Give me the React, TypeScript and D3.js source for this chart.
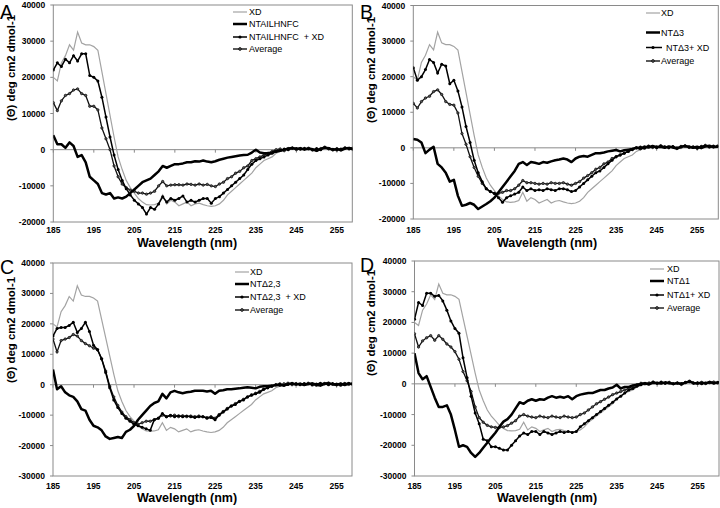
import React from "react";
import * as d3 from "d3";

const WAVELENGTHS = d3.range(185, 261);

const TICKS_X = [185, 195, 205, 215, 225, 235, 245, 255];

const XD = [
  20000, 19000, 24000, 26000, 29000, 27500, 32500, 29500, 29000, 29000, 28500, 27500, 21500, 15500, 9500, 3500,
  -2000, -5500, -8500, -10500, -12000, -13500, -14500, -15200, -15300, -15200, -14800, -12500, -15000, -14000,
  -14500, -15500, -15000, -14500, -15500, -15000, -14800, -15200, -15500, -15700, -15500, -15000, -14000, -12500,
  -11500, -10500, -9500, -8500, -7500, -6500, -5000, -4000, -3000, -2500, -2000, -1000,
  -500, -200, 200, 400, 100, 300, 200, 500, 200, 0, -200, 400, 600, 200, 0, 300, 500, 200, 400, 300,
];

const NTAIL = [
  4000, 1500, 1500, 500, 2000, 1000, -2000, -1500, -3500, -7500, -8500, -9500, -12000, -12400, -12000, -13500,
  -13200, -13500, -13000, -12000, -11000, -10000, -9000, -8500, -8000, -7000, -6000, -4500, -5000, -4500,
  -4000, -4000, -3800, -3500, -3500, -3200, -3300, -3000, -3300, -3500, -3200, -2800, -2500, -2200,
  -2000, -1800, -1600, -1500, -1400, -800, 0, -800, -1000, -1000, -800, -500,
  -300, 0, 300, 500, 200, 400, 0, 300, 100, -300, 200, 600, 300, 0, 200, -200, 300, 500, 200, 400,
];
const NTAIL_XD = [
  22000, 24000, 23000, 25000, 24000, 26000, 24500, 26500, 26500, 20500, 20000, 19000, 14500, 9000, 3500, -1500,
  -5500, -8500, -10800, -12500, -14000, -15000, -16000, -17800, -16000, -16500, -15000, -13000, -14500, -13500,
  -14000, -13500, -12800, -14500, -14000, -14500, -14000, -13500, -13500, -14800, -13500, -13000, -12000, -11000,
  -10000, -9000, -8000, -7000, -5500, -4000, -3000, -2500, -2000, -1500, -1000, -500,
  -200, 200, 0, 400, 300, 100, 400, 200, -100, 300, 0, 500, 400, 100, -100, 200, 500, 300, 0, 400,
];
const NTAIL_AVG = [
  13000, 10800, 13500, 15000, 15500, 16500, 16800, 15500, 15000, 12000, 12000, 11000, 6000, 3000, 0, -4500,
  -7500, -9500, -10500, -11200, -11500, -12000, -12000, -12300, -12000, -11500, -10000, -8800, -10000, -9800,
  -9700, -9700, -9800, -9500, -9600, -9800, -9500, -9800, -9600, -10000, -10200, -9500, -9000, -8000,
  -7500, -6500, -6000, -5000, -4500, -3000, -2500, -2000, -1500, -1000, -500, 0,
  200, -300, 300, 500, 0, 300, 200, 400, 0, -200, 300, 700, 200, -100, 300, 0, 400, 200, 500, 300,
];

const NTD3 = [
  2500, 2300, 1500, -1500, -500, 300, -4500, -5500, -7000, -9500, -9000, -13500, -16300, -16000, -15500, -16000,
  -17200, -16500, -15800, -15000, -14000, -12500, -11000, -9500, -8000, -6500, -4500, -4000, -4800, -4000,
  -4200, -4500, -4000, -4200, -3800, -3500, -3300, -3000, -3300, -4000, -3000, -2500, -2300, -2500,
  -2000, -1500, -1500, -1300, -1000, -800, -600, -1000, -700, -500, -300, 0,
  -200, 300, 100, 500, 200, 300, 0, 400, 100, -200, 300, 500, 200, 0, 300, -100, 400, 600, 200, 300,
];
const NTD3_XD = [
  22500, 19000, 20000, 22000, 24800, 24000, 21000, 23500, 23000, 18000, 19000, 16000, 11500, 6000, 1500, -3500,
  -7000, -9500, -11500, -12300, -12800, -14000, -15300, -14000, -13500, -13000, -12500, -11000, -12000, -11500,
  -12000, -11800, -12000, -11500, -11800, -12000, -11500, -11500, -11800, -12300, -12000, -11000, -10000, -9000,
  -8000, -7000, -6500, -5500, -4500, -3500, -2500, -2000, -1500, -1000, -500, 0,
  200, -100, 400, 300, 0, 500, 300, 100, 400, 0, 200, 600, 300, 100, -100, 300, 600, 200, 500, 400,
];
const NTD3_AVG = [
  12500, 11200, 13000, 14000, 14500, 15800, 16300, 15000, 13000, 12200, 12000, 9800, 4000, 1000, -2500, -5500,
  -8000, -10000, -11500, -12300, -12800, -12800, -12500, -12000, -12000, -11500, -10500, -9200, -9800, -9800,
  -10000, -10200, -10000, -10200, -9800, -10000, -10000, -9800, -10200, -10500, -10000, -9500, -8500, -7800,
  -7000, -6000, -5500, -4500, -4000, -3000, -2500, -2000, -1500, -1000, -500, 0,
  -300, 200, 500, 100, 300, 600, 200, 0, 300, -200, 400, 500, 100, 300, 0, 400, 700, 300, 200, 500,
];

const NTD23 = [
  5000, -1500, -500, -2500, -3500, -4000, -5500, -8000, -8500, -11500, -13500, -14000, -15000, -17000, -17800, -17500,
  -17200, -17500, -15500, -14800, -13500, -11500, -10000, -8500, -7000, -6000, -5500, -3000, -4500, -2500,
  -2000, -2500, -2800, -2500, -2300, -2000, -2000, -2000, -2200, -2000, -3000, -2000, -1800, -1500,
  -1500, -1300, -1200, -1000, -800, -1000, -1200, -700, -500, -500, -300, -200,
  0, -300, 200, 400, 100, 300, -100, 200, 400, 0, -300, 300, 500, 100, 0, 300, -100, 400, 200, 300,
];
const NTD23_XD = [
  16000, 18500, 18800, 18800, 19500, 20500, 17200, 18500, 20500, 17500, 13000, 11500, 8500, 4000, -1000, -5000,
  -7500, -9500, -11000, -12000, -13000, -13500, -14000, -14500, -15000, -11500, -11000, -9500, -10500, -10000,
  -10500, -10200, -10500, -10300, -10500, -10800, -10500, -10500, -11000, -10800, -11500, -10000, -9000, -8000,
  -7000, -6500, -5500, -5000, -4000, -3500, -3000, -2500, -1500, -1000, -500, 0,
  300, -200, 100, 500, 200, 0, 400, 300, -100, 200, 500, 300, 0, 400, 200, -200, 300, 500, 100, 400,
];
const NTD23_AVG = [
  15000, 10800, 14500, 15000, 15500, 16500, 16000, 14500, 13500, 12800, 12000, 11500, 8500, 4500, -500, -4000,
  -6800, -9000, -10500, -11500, -12500, -13000, -12500, -12000, -12000, -11500, -11000, -10000, -10500, -10300,
  -10000, -10500, -10200, -10500, -10300, -10500, -10300, -10500, -10800, -10500, -11000, -9800, -8800, -7800,
  -7000, -6200, -5500, -4800, -4000, -3300, -2800, -2200, -1500, -1000, -500, 0,
  -200, 300, 500, 0, 400, 200, 100, 500, 300, -200, 0, 400, 600, 200, -100, 300, 400, 100, 500, 200,
];

const NTD1 = [
  10000, 3500, 1500, 2500, -1000, -4500, -7500, -7500, -7000, -10000, -15000, -20500, -20000, -20500, -22500, -23800,
  -22500, -20800, -19200, -17500, -15900, -14000, -12300, -11500, -10000, -8000, -6000, -6500, -5500, -5000,
  -5500, -5000, -5200, -4500, -4000, -4500, -4200, -4500, -4000, -5000, -4000, -3500, -3200, -3000,
  -3000, -2500, -2000, -2000, -1500, -1200, -300, -1500, -1000, -1000, -500, -300,
  0, 200, -200, 400, 300, 100, 500, 200, 0, 300, -100, 400, 800, 300, 100, 400, 200, 500, 300, 400,
];
const NTD1_XD = [
  21000, 26500, 25500, 29500, 29500, 28500, 28800, 27000, 24000, 20500, 18000, 16500, 8500, 2000, -4000, -9500,
  -13000, -18000, -18500, -20500, -20500, -21000, -21500, -21500, -20000, -18500, -17000, -16000, -16500, -15500,
  -15500, -16500, -15500, -16000, -16500, -16000, -15500, -15800, -15500, -15800, -15500, -14000, -13000, -12000,
  -11000, -10000, -9000, -8000, -7000, -6000, -4900, -4000, -3000, -2000, -1500, -800,
  -300, 200, 0, 500, 300, 600, 200, 400, 0, 300, 100, 500, 700, 200, 400, 0, 300, 600, 200, 500,
];
const NTD1_AVG = [
  16300, 12000, 14000, 15000, 15700, 14200, 15700, 14500, 13000, 12000, 10500, 8000, 4000, 1000, -2500, -7500,
  -11000, -12500, -13500, -14000, -14200, -14200, -14000, -13600, -12800, -12000, -10500, -10000, -10500, -10800,
  -11000, -10500, -10800, -11000, -10500, -10800, -11000, -10500, -10800, -11000, -10800, -10000, -9500, -8500,
  -7500, -6500, -5800, -5000, -4300, -3500, -3000, -2500, -2000, -1500, -800, -300,
  200, 0, 300, 600, 100, 400, 200, 500, 0, 300, -200, 400, 900, 300, 200, 500, 100, 400, 600, 300,
];

type Entry = { label: string; y: number; textX: number };
type PanelCfg = {
  letter: string;
  letterX: number;
  letterY: number;
  left: number;
  right: number;
  top: number;
  bottom: number;
  xMax: number;
  yMin: number;
  thick: number[];
  combined: number[];
  avg: number[];
  legendLineX: number;
  legend: Entry[];
  tickLabelY: number;
  titleX: number;
  titleY: number;
  yTitleX: number;
  yTitleY: number;
};

const PANELS: PanelCfg[] = [
  {
    letter: "A", letterX: 0, letterY: 19,
    left: 53.3, right: 352.3, top: 5, bottom: 222, xMax: 258.8, yMin: -20000,
    thick: NTAIL, combined: NTAIL_XD, avg: NTAIL_AVG,
    legendLineX: 233,
    legend: [
      { label: "XD", y: 12, textX: 249 },
      { label: "NTAILHNFC", y: 24, textX: 249 },
      { label: "NTAILHNFC  + XD", y: 37, textX: 249 },
      { label: "Average", y: 49, textX: 249 },
    ],
    tickLabelY: 230, titleX: 187, titleY: 247, yTitleX: 11, yTitleY: 68,
  },
  {
    letter: "B", letterX: 360, letterY: 19,
    left: 413.3, right: 718.3, top: 5.5, bottom: 219, xMax: 260.2, yMin: -20000,
    thick: NTD3, combined: NTD3_XD, avg: NTD3_AVG,
    legendLineX: 646,
    legend: [
      { label: "XD", y: 13, textX: 661 },
      { label: "NTΔ3", y: 32.5, textX: 661 },
      { label: "NTΔ3+ XD", y: 47.5, textX: 666 },
      { label: "Average", y: 61, textX: 661 },
    ],
    tickLabelY: 230, titleX: 547, titleY: 247, yTitleX: 371, yTitleY: 70,
  },
  {
    letter: "C", letterX: 0, letterY: 274,
    left: 53, right: 352, top: 263, bottom: 476, xMax: 258.8, yMin: -30000,
    thick: NTD23, combined: NTD23_XD, avg: NTD23_AVG,
    legendLineX: 235,
    legend: [
      { label: "XD", y: 272, textX: 250 },
      { label: "NTΔ2,3", y: 284, textX: 250 },
      { label: "NTΔ2,3  + XD", y: 297, textX: 250 },
      { label: "Average", y: 310, textX: 250 },
    ],
    tickLabelY: 486, titleX: 187, titleY: 502, yTitleX: 11, yTitleY: 330,
  },
  {
    letter: "D", letterX: 360, letterY: 272,
    left: 414.5, right: 719, top: 261, bottom: 476, xMax: 260.3, yMin: -30000,
    thick: NTD1, combined: NTD1_XD, avg: NTD1_AVG,
    legendLineX: 650,
    legend: [
      { label: "XD", y: 269, textX: 667 },
      { label: "NTΔ1", y: 281, textX: 667 },
      { label: "NTΔ1+ XD", y: 295, textX: 667 },
      { label: "Average", y: 308, textX: 667 },
    ],
    tickLabelY: 486, titleX: 547, titleY: 502, yTitleX: 371, yTitleY: 323,
  },
];

const FONT = "'Liberation Sans', Arial, Helvetica, sans-serif";
const GRID = "#8a8a8a";
const XD_COLOR = "#a3a3a3";

function Panel({ p, idx }: { p: PanelCfg; idx: number }) {
  const x = d3.scaleLinear().domain([185, p.xMax]).range([p.left, p.right]);
  const y = d3.scaleLinear().domain([p.yMin, 40000]).range([p.bottom, p.top]);
  const line = d3
    .line<number>()
    .x((_, i) => x(WAVELENGTHS[i]))
    .y((d) => y(d));
  const yTicks = d3.range(p.yMin, 40001, 10000);
  const clipId = `clip${idx}`;
  const y0 = y(0);
  const legendLen = p.legendLineX;
  return (
    <g>
      <defs>
        <clipPath id={clipId}>
          <rect x={p.left} y={p.top} width={p.right - p.left} height={p.bottom - p.top} />
        </clipPath>
      </defs>
      <text x={p.letterX} y={p.letterY} fontFamily={FONT} fontSize={19.5} fill="#000">
        {p.letter}
      </text>
      <rect x={p.left} y={p.top} width={p.right - p.left} height={p.bottom - p.top} fill="none" stroke={GRID} strokeWidth={1} />
      <line x1={p.left} x2={p.right} y1={y0} y2={y0} stroke={GRID} strokeWidth={1} />
      {yTicks.map((t) => (
        <g key={t}>
          <line x1={p.left - 3} x2={p.left} y1={y(t)} y2={y(t)} stroke={GRID} />
          <text x={p.left - 8} y={y(t)} textAnchor="end" dominantBaseline="central" fontFamily={FONT} fontWeight="bold" fontSize={8.5}>
            {t}
          </text>
        </g>
      ))}
      {TICKS_X.map((t) => (
        <g key={t}>
          <line x1={x(t)} x2={x(t)} y1={y0} y2={y0 + 3} stroke={GRID} />
          <text x={x(t)} y={p.tickLabelY} textAnchor="middle" dominantBaseline="central" fontFamily={FONT} fontWeight="bold" fontSize={8.5}>
            {t}
          </text>
        </g>
      ))}
      <text x={p.titleX} y={p.titleY} textAnchor="middle" fontFamily={FONT} fontWeight="bold" fontSize={12.5}>
        Wavelength (nm)
      </text>
      <text
        transform={`translate(${p.yTitleX},${p.yTitleY}) rotate(-90)`}
        textAnchor="middle"
        dominantBaseline="central"
        fontFamily={FONT}
        fontWeight="bold"
        fontSize={10.5}
        textLength={106}
        lengthAdjust="spacingAndGlyphs"
      >
        (Θ) deg cm2 dmol-1
      </text>
      <g clipPath={`url(#${clipId})`}>
        <path d={line(XD) || ""} fill="none" stroke={XD_COLOR} strokeWidth={1.2} />
        <path d={line(p.avg) || ""} fill="none" stroke="#111" strokeWidth={1.3} />
        {p.avg.map((v, i) => (
          <circle key={"a" + i} cx={x(WAVELENGTHS[i])} cy={y(v)} r={1.2} fill="#555" stroke="#111" strokeWidth={0.7} />
        ))}
        <path d={line(p.combined) || ""} fill="none" stroke="#000" strokeWidth={1.5} />
        {p.combined.map((v, i) => (
          <circle key={"c" + i} cx={x(WAVELENGTHS[i])} cy={y(v)} r={1.5} fill="#000" />
        ))}
        <path d={line(p.thick) || ""} fill="none" stroke="#000" strokeWidth={2.5} strokeLinejoin="round" />
      </g>
      {p.legend.map((e, i) => {
        const x1 = legendLen;
        const x2 = legendLen + 14;
        const mid = (x1 + x2) / 2;
        return (
          <g key={e.label}>
            {i === 0 && <line x1={x1} x2={x2} y1={e.y} y2={e.y} stroke={XD_COLOR} strokeWidth={1.2} />}
            {i === 1 && <line x1={x1} x2={x2} y1={e.y} y2={e.y} stroke="#000" strokeWidth={2.5} />}
            {i === 2 && (
              <g>
                <line x1={x1} x2={x2 + (e.textX - x2 > 4 ? 2 : 0)} y1={e.y} y2={e.y} stroke="#000" strokeWidth={1.5} />
                <circle cx={mid} cy={e.y} r={1.6} fill="#000" />
              </g>
            )}
            {i === 3 && (
              <g>
                <line x1={x1} x2={x2} y1={e.y} y2={e.y} stroke="#000" strokeWidth={1.3} />
                <circle cx={mid} cy={e.y} r={1.4} fill="#555" stroke="#000" strokeWidth={0.7} />
              </g>
            )}
            <text x={e.textX} y={e.y} dominantBaseline="central" fontFamily={FONT} fontSize={9} style={{ whiteSpace: "pre" }}>
              {e.label}
            </text>
          </g>
        );
      })}
    </g>
  );
}

export default function App() {
  return (
    <svg width={720} height={508} style={{ position: "absolute", left: 0, top: 0, background: "#fff" }}>
      <rect x={0} y={0} width={720} height={508} fill="#fff" />
      {PANELS.map((p, i) => (
        <Panel key={p.letter} p={p} idx={i} />
      ))}
    </svg>
  );
}
